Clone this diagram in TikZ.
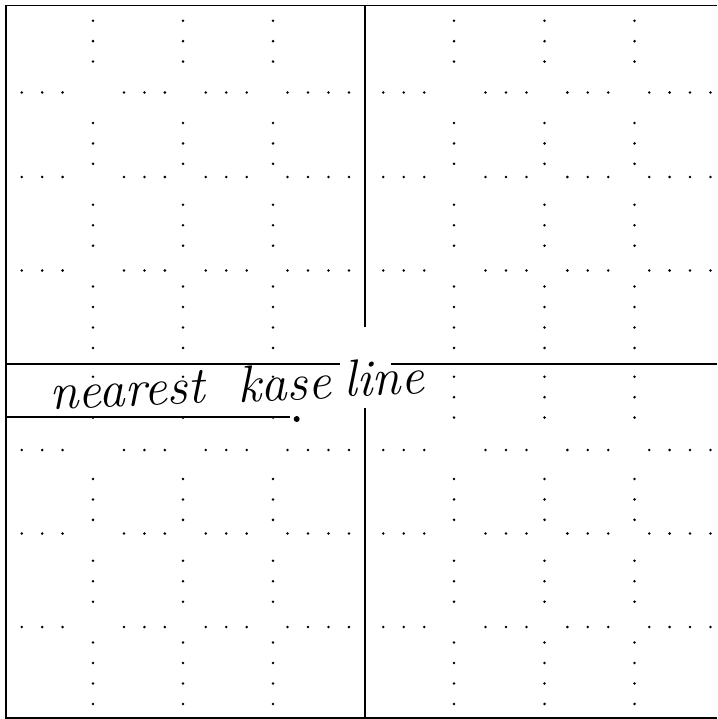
\documentclass[tikz,border=0pt]{standalone}
\usepackage{fontspec}
\begin{document}
\begin{tikzpicture}[x=1pt,y=-1pt,
  frame/.style={line width=1.6pt,black},
  divider/.style={line width=1.4pt,black},
  dotmark/.style={fill=black},
  hand/.style={font=\fontsize{52}{60}\selectfont\itshape,inner sep=0pt,anchor=base west,rotate=2.5}]
\useasboundingbox (0,0) rectangle (717,719);
\fill[white] (0,0) rectangle (717,719);
% outer frame
\draw[frame] (717,5.5) -- (6,5.5) -- (6,718) -- (717,718);
% dividers
\draw[divider] (365,5.5) -- (365,327);
\draw[divider] (365,408) -- (365,718);
\draw[divider] (6,364) -- (340,364);
\draw[divider] (391,364) -- (717,364);
% dotted rows
\foreach \yy in {92.5,177,270.5,450,533.5,627}
  \foreach \bx in {21.7,383.3}
    \foreach \k in {0,1,2,5,6,7,9,10,11,13,14,15,16}
      \fill[dotmark] (\bx+20.45*\k,\yy) circle (1.4pt);
% dotted columns, right half
\foreach \cx in {454,544.5,634.5}
  \foreach \by in {20.7,376.7}
    \foreach \k in {0,1,2,5,6,7,9,10,11,13,14,15,16}
      \fill[dotmark] (\cx,\by+20.45*\k) circle (1.4pt);
% dotted columns, left half
\foreach \cx in {93,183,273}{
  \foreach \k in {0,1,2,5,6,7,9,10,11,13,14,15,16}
    \fill[dotmark] (\cx,20.7+20.45*\k) circle (1.4pt);
  \foreach \k in {0,2,5,6,7,9,10,11,13,14,15,16}
    \fill[dotmark] (\cx,376.7+20.45*\k) circle (1.4pt);
}
% handwritten label
\node[hand] (w1) at (50,410) {nearest};
\node[hand] (w2) at (238,403) {kase};
\node[hand] (w3) at (344,397) {line};
\draw[line width=1.8pt] (6,417) -- (290,417);
\fill (296.7,419) circle (3pt);
\end{tikzpicture}
\end{document}
